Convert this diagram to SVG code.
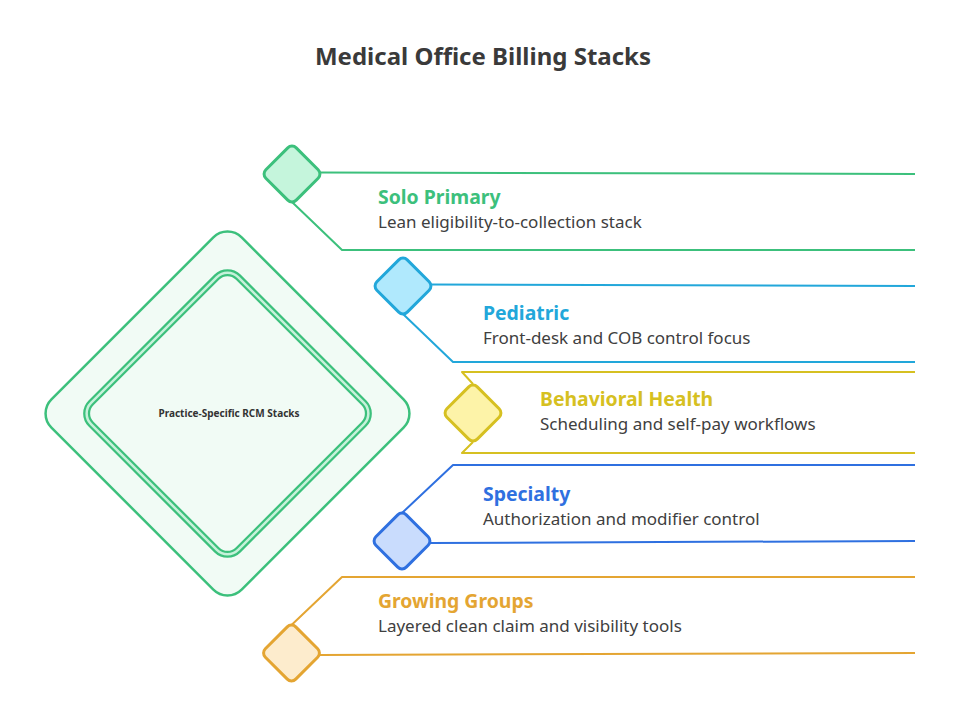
<svg xmlns="http://www.w3.org/2000/svg" width="958" height="726" viewBox="0 0 958 726">
<style>
.t{font-family:"Noto Sans","Liberation Sans",sans-serif;}
.title{font-size:24px;font-weight:700;fill:#3a3a3a;}
.h{font-size:19.4px;font-weight:700;}
.s{font-size:17px;fill:#404040;}
.ln{fill:none;stroke-width:2;stroke-linejoin:round;}
.sd{stroke-width:3;}
</style>
<rect width="958" height="726" fill="#ffffff"/>
<text class="t title" x="483" y="65" text-anchor="middle">Medical Office Billing Stacks</text>
<g id="connectors">
<path class="ln" stroke="#3cc07c" d="M320,172.5 L915,174 M292,202 L342,250 L915,250"/>
<path class="ln" stroke="#22a7da" d="M431,284.5 L915,286 M403,314 L453,362 L915,362"/>
<path class="ln" stroke="#d6c021" d="M915,372 L462,372 L473,384 M473,442 L462,453 L915,453"/>
<path class="ln" stroke="#2f70e0" d="M915,465 L453,465 L402,513 M430,543 L915,541"/>
<path class="ln" stroke="#e4a532" d="M915,577 L342,577 L291.5,625 M320,655 L915,653"/>
</g>
<g id="center">
<rect x="-134.5" y="-134.5" width="269" height="269" rx="20" fill="#f1fbf5" stroke="#3cc07c" stroke-width="2.5" transform="translate(227.5,413.5) rotate(45)"/>
<rect x="-104" y="-104" width="208" height="208" rx="15" fill="none" stroke="#3cc07c" stroke-width="7" transform="translate(227.5,413.5) rotate(45)"/>
<rect x="-104" y="-104" width="208" height="208" rx="15" fill="none" stroke="#c6f1da" stroke-width="2.5" transform="translate(227.5,413.5) rotate(45)"/>
<text class="t" x="229" y="416.5" text-anchor="middle" font-size="10" font-weight="700" fill="#333">Practice-Specific RCM Stacks</text>
</g>
<g id="solo-primary">
<rect class="sd" x="-21.5" y="-21.5" width="43" height="43" rx="6" fill="#c5f5dc" stroke="#3cc07c" transform="translate(292,174) rotate(45)"/>
<text class="t h" x="378" y="204" fill="#3cc07c">Solo Primary</text>
<text class="t s" x="378" y="228">Lean eligibility-to-collection stack</text>
</g>
<g id="pediatric">
<rect class="sd" x="-21.5" y="-21.5" width="43" height="43" rx="6" fill="#b0e9fd" stroke="#22a7da" transform="translate(403,286) rotate(45)"/>
<text class="t h" x="483" y="319.5" fill="#22a7da">Pediatric</text>
<text class="t s" x="483" y="343.5">Front-desk and COB control focus</text>
</g>
<g id="behavioral-health">
<rect class="sd" x="-21.5" y="-21.5" width="43" height="43" rx="6" fill="#fdf3a8" stroke="#d6c021" transform="translate(473,413) rotate(45)"/>
<text class="t h" x="540" y="405.5" fill="#d6c021">Behavioral Health</text>
<text class="t s" x="540" y="429.5">Scheduling and self-pay workflows</text>
</g>
<g id="specialty">
<rect class="sd" x="-21.5" y="-21.5" width="43" height="43" rx="6" fill="#c9dcfd" stroke="#2f70e0" transform="translate(402,541) rotate(45)"/>
<text class="t h" x="483" y="500.5" fill="#2f70e0">Specialty</text>
<text class="t s" x="483" y="524.5">Authorization and modifier control</text>
</g>
<g id="growing-groups">
<rect class="sd" x="-21.5" y="-21.5" width="43" height="43" rx="6" fill="#fdeccd" stroke="#e4a532" transform="translate(291.5,653) rotate(45)"/>
<text class="t h" x="378" y="607.5" fill="#e4a532">Growing Groups</text>
<text class="t s" x="378" y="631.5">Layered clean claim and visibility tools</text>
</g>
</svg>
